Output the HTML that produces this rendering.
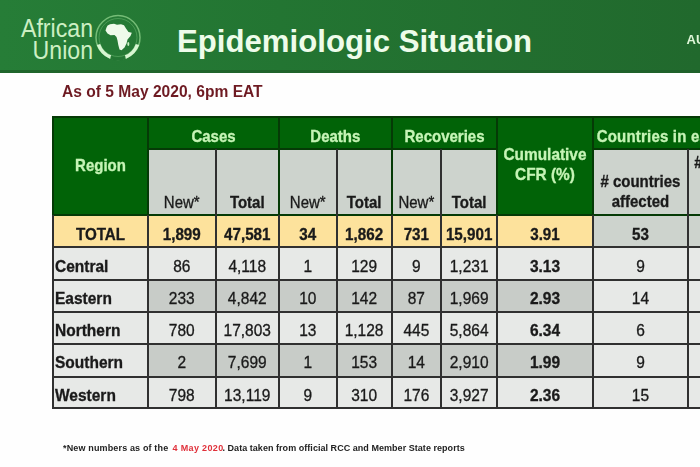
<!DOCTYPE html>
<html><head><meta charset="utf-8">
<style>
html,body{margin:0;padding:0;}
body{width:700px;height:467px;overflow:hidden;position:relative;background:#fefefe;font-family:"Liberation Sans",sans-serif;}
#wrap{position:absolute;left:0;top:0;width:700px;height:467px;filter:blur(0.35px);}
</style></head><body><div id="wrap">
<div style="position:absolute;left:0;top:0;width:700px;height:72.5px;background:linear-gradient(to right,#267d37 0%,#237532 40%,#21692d 100%);"></div>
<div style="position:absolute;left:0;top:69.5px;width:700px;height:3px;background:#1e5f29;opacity:0.8;"></div>
<div style="position:absolute;left:0px;top:16.5px;width:93px;font-size:25px;line-height:22px;color:#cdefc3;text-align:right;transform:scaleX(0.925);transform-origin:right top;">African<br>Union</div>
<svg style="position:absolute;left:94px;top:13px" width="48" height="48" viewBox="0 0 48 48">
<circle cx="24" cy="24.5" r="22" fill="none" stroke="#9fe09a" stroke-width="1.5" opacity="0.65"/>
<circle cx="24" cy="24.5" r="19" fill="none" stroke="#8fd88f" stroke-width="1" opacity="0.35"/>
<path d="M4.5 31.5 A21 21 0 0 0 16.5 44" fill="none" stroke="#d8f6d2" stroke-width="3.6"/>
<path d="M43.5 31.5 A21 21 0 0 1 31.5 44" fill="none" stroke="#d8f6d2" stroke-width="3.6"/>
<path d="M17 45 Q24 47.5 31 45" fill="none" stroke="#247634" stroke-width="2.4"/>
<path d="M12.5 14.5 Q13 12 16 11.3 L20 10.8 L23 11.8 L27 11.2 L30 12.3 L32 15.5 L34.5 19 L37.8 19.8 L36.5 23 L33.5 26.5 L32.5 30.5 L30.5 34.5 L27.5 37.3 L25.5 36.5 L24.3 32 L23.5 27.5 L22.5 24 L20.5 22 L16.5 22.3 L13.5 20.5 L11.5 17.5 Z" fill="#eefaea"/>
<ellipse cx="34.3" cy="31" rx="1" ry="2" fill="#c8efc2"/>
</svg>
<div style="position:absolute;left:177px;top:23px;font-size:32px;font-weight:bold;color:#eefcea;white-space:nowrap;transform:scaleX(0.974);transform-origin:left top;">Epidemiologic Situation</div>
<div style="position:absolute;left:686.5px;top:32px;font-size:13px;font-weight:bold;color:#dff6d8;font-family:"Liberation Serif",serif;white-space:nowrap;">AU</div>
<div style="position:absolute;left:62px;top:82.5px;font-size:16px;font-weight:bold;color:#6e1a22;white-space:nowrap;transform:scaleX(0.974);transform-origin:left top;">As of 5 May 2020, 6pm EAT</div>
<div style="position:absolute;left:53px;top:116.5px;width:707px;height:98.30000000000001px;background:#016307;"></div>
<div style="position:absolute;left:148px;top:148.5px;width:67.5px;height:66.30000000000001px;background:#cdd3cd;"></div>
<div style="position:absolute;left:215.5px;top:148.5px;width:63.5px;height:66.30000000000001px;background:#cdd3cd;"></div>
<div style="position:absolute;left:279px;top:148.5px;width:57.5px;height:66.30000000000001px;background:#cdd3cd;"></div>
<div style="position:absolute;left:336.5px;top:148.5px;width:55.19999999999999px;height:66.30000000000001px;background:#cdd3cd;"></div>
<div style="position:absolute;left:391.7px;top:148.5px;width:49.30000000000001px;height:66.30000000000001px;background:#cdd3cd;"></div>
<div style="position:absolute;left:441px;top:148.5px;width:56.30000000000001px;height:66.30000000000001px;background:#cdd3cd;"></div>
<div style="position:absolute;left:592.7px;top:148.5px;width:167.29999999999995px;height:66.30000000000001px;background:#cdd3cd;"></div>
<div style="position:absolute;left:53px;top:214.8px;width:539.7px;height:32.5px;background:#fde29c;"></div>
<div style="position:absolute;left:592.7px;top:214.8px;width:167.29999999999995px;height:32.5px;background:#cdd3cd;"></div>
<div style="position:absolute;left:53px;top:247.3px;width:707px;height:32.5px;background:#e7e9e7;"></div>
<div style="position:absolute;left:53px;top:279.8px;width:707px;height:31.899999999999977px;background:#e7e9e7;"></div>
<div style="position:absolute;left:148px;top:279.8px;width:444.70000000000005px;height:31.899999999999977px;background:#c8ccc8;"></div>
<div style="position:absolute;left:53px;top:311.7px;width:707px;height:32.10000000000002px;background:#e7e9e7;"></div>
<div style="position:absolute;left:53px;top:343.8px;width:707px;height:32.69999999999999px;background:#e7e9e7;"></div>
<div style="position:absolute;left:148px;top:343.8px;width:444.70000000000005px;height:32.69999999999999px;background:#c8ccc8;"></div>
<div style="position:absolute;left:53px;top:376.5px;width:707px;height:31.5px;background:#e7e9e7;"></div>
<div style="position:absolute;left:52px;top:115.5px;width:708px;height:2.0px;background:#053a06;"></div>
<div style="position:absolute;left:52px;top:246.3px;width:708px;height:2.0px;background:#303030;"></div>
<div style="position:absolute;left:52px;top:278.8px;width:708px;height:2.0px;background:#303030;"></div>
<div style="position:absolute;left:52px;top:310.7px;width:708px;height:2.0px;background:#303030;"></div>
<div style="position:absolute;left:52px;top:342.8px;width:708px;height:2.0px;background:#303030;"></div>
<div style="position:absolute;left:52px;top:375.5px;width:708px;height:2.0px;background:#303030;"></div>
<div style="position:absolute;left:52px;top:407.0px;width:708px;height:2.0px;background:#303030;"></div>
<div style="position:absolute;left:52px;top:213.8px;width:708px;height:2.0px;background:#053a06;"></div>
<div style="position:absolute;left:148px;top:147.5px;width:349.3px;height:2.0px;background:#053a06;"></div>
<div style="position:absolute;left:592.7px;top:147.5px;width:167.29999999999995px;height:2.0px;background:#053a06;"></div>
<div style="position:absolute;left:52.0px;top:116.5px;width:2.0px;height:98.30000000000001px;background:#053a06;"></div>
<div style="position:absolute;left:52.0px;top:214.8px;width:2.0px;height:194.2px;background:#303030;"></div>
<div style="position:absolute;left:147.0px;top:116.5px;width:2.0px;height:98.30000000000001px;background:#053a06;"></div>
<div style="position:absolute;left:147.0px;top:214.8px;width:2.0px;height:194.2px;background:#303030;"></div>
<div style="position:absolute;left:214.5px;top:148.5px;width:2.0px;height:66.30000000000001px;background:#303030;"></div>
<div style="position:absolute;left:214.5px;top:214.8px;width:2.0px;height:194.2px;background:#303030;"></div>
<div style="position:absolute;left:278.0px;top:116.5px;width:2.0px;height:98.30000000000001px;background:#053a06;"></div>
<div style="position:absolute;left:278.0px;top:214.8px;width:2.0px;height:194.2px;background:#303030;"></div>
<div style="position:absolute;left:335.5px;top:148.5px;width:2.0px;height:66.30000000000001px;background:#303030;"></div>
<div style="position:absolute;left:335.5px;top:214.8px;width:2.0px;height:194.2px;background:#303030;"></div>
<div style="position:absolute;left:390.7px;top:116.5px;width:2.0px;height:98.30000000000001px;background:#053a06;"></div>
<div style="position:absolute;left:390.7px;top:214.8px;width:2.0px;height:194.2px;background:#303030;"></div>
<div style="position:absolute;left:440.0px;top:148.5px;width:2.0px;height:66.30000000000001px;background:#303030;"></div>
<div style="position:absolute;left:440.0px;top:214.8px;width:2.0px;height:194.2px;background:#303030;"></div>
<div style="position:absolute;left:496.3px;top:116.5px;width:2.0px;height:98.30000000000001px;background:#053a06;"></div>
<div style="position:absolute;left:496.3px;top:214.8px;width:2.0px;height:194.2px;background:#303030;"></div>
<div style="position:absolute;left:591.7px;top:116.5px;width:2.0px;height:98.30000000000001px;background:#053a06;"></div>
<div style="position:absolute;left:591.7px;top:214.8px;width:2.0px;height:194.2px;background:#303030;"></div>
<div style="position:absolute;left:687.2px;top:148.5px;width:2.0px;height:66.30000000000001px;background:#303030;"></div>
<div style="position:absolute;left:687.2px;top:214.8px;width:2.0px;height:194.2px;background:#303030;"></div>
<div style="position:absolute;left:53px;top:114.5px;width:95px;height:98.30000000000001px;display:flex;align-items:center;justify-content:center;font-size:15px;font-weight:bold;color:#c6f4b6;white-space:nowrap;transform:scaleY(1.12);-webkit-text-stroke:0.3px #c6f4b6;">Region</div>
<div style="position:absolute;left:148px;top:118.5px;width:131px;height:32.0px;display:flex;align-items:center;justify-content:center;font-size:15px;font-weight:bold;color:#c6f4b6;white-space:nowrap;transform:scaleY(1.12);-webkit-text-stroke:0.3px #c6f4b6;">Cases</div>
<div style="position:absolute;left:279px;top:118.5px;width:112.69999999999999px;height:32.0px;display:flex;align-items:center;justify-content:center;font-size:15px;font-weight:bold;color:#c6f4b6;white-space:nowrap;transform:scaleY(1.12);-webkit-text-stroke:0.3px #c6f4b6;">Deaths</div>
<div style="position:absolute;left:391.7px;top:118.5px;width:105.60000000000002px;height:32.0px;display:flex;align-items:center;justify-content:center;font-size:15px;font-weight:bold;color:#c6f4b6;white-space:nowrap;transform:scaleY(1.12);-webkit-text-stroke:0.3px #c6f4b6;">Recoveries</div>
<div style="position:absolute;left:497.3px;top:115.3px;width:95.40000000000003px;height:98.30000000000001px;display:flex;align-items:center;justify-content:center;font-size:15.4px;font-weight:bold;color:#c6f4b6;white-space:nowrap;transform:scaleY(1.12);-webkit-text-stroke:0.3px #c6f4b6;text-align:center;line-height:18px;">Cumulative<br>CFR (%)</div>
<div style="position:absolute;left:592.7px;top:118.5px;width:167.29999999999995px;height:32.0px;display:flex;align-items:center;justify-content:flex-start;font-size:15px;font-weight:bold;color:#c6f4b6;white-space:nowrap;transform:scaleY(1.12);-webkit-text-stroke:0.3px #c6f4b6;padding-left:4px;box-sizing:border-box;letter-spacing:0.2px;">Countries in each</div>
<div style="position:absolute;left:148px;top:188.3px;width:67.5px;height:28.0px;display:flex;align-items:center;justify-content:center;font-size:15px;font-weight:normal;color:#1a1a1a;white-space:nowrap;transform:scaleY(1.06);-webkit-text-stroke:0.3px #1a1a1a;">New*</div>
<div style="position:absolute;left:215.5px;top:188.3px;width:63.5px;height:28.0px;display:flex;align-items:center;justify-content:center;font-size:15px;font-weight:bold;color:#1a1a1a;white-space:nowrap;transform:scaleY(1.06);-webkit-text-stroke:0.3px #1a1a1a;">Total</div>
<div style="position:absolute;left:279px;top:188.3px;width:57.5px;height:28.0px;display:flex;align-items:center;justify-content:center;font-size:15px;font-weight:normal;color:#1a1a1a;white-space:nowrap;transform:scaleY(1.06);-webkit-text-stroke:0.3px #1a1a1a;">New*</div>
<div style="position:absolute;left:336.5px;top:188.3px;width:55.19999999999999px;height:28.0px;display:flex;align-items:center;justify-content:center;font-size:15px;font-weight:bold;color:#1a1a1a;white-space:nowrap;transform:scaleY(1.06);-webkit-text-stroke:0.3px #1a1a1a;">Total</div>
<div style="position:absolute;left:391.7px;top:188.3px;width:49.30000000000001px;height:28.0px;display:flex;align-items:center;justify-content:center;font-size:15px;font-weight:normal;color:#1a1a1a;white-space:nowrap;transform:scaleY(1.06);-webkit-text-stroke:0.3px #1a1a1a;">New*</div>
<div style="position:absolute;left:441px;top:188.3px;width:56.30000000000001px;height:28.0px;display:flex;align-items:center;justify-content:center;font-size:15px;font-weight:bold;color:#1a1a1a;white-space:nowrap;transform:scaleY(1.06);-webkit-text-stroke:0.3px #1a1a1a;">Total</div>
<div style="position:absolute;left:592.7px;top:162.5px;width:95.5px;height:56.30000000000001px;display:flex;align-items:center;justify-content:center;font-size:15px;font-weight:bold;color:#1a1a1a;white-space:nowrap;transform:scaleY(1.12);-webkit-text-stroke:0.3px #1a1a1a;text-align:center;line-height:17.8px;"># countries<br>affected</div>
<div style="position:absolute;left:688.2px;top:146.5px;width:71.79999999999995px;height:28.0px;display:flex;align-items:center;justify-content:flex-start;font-size:15px;font-weight:bold;color:#1a1a1a;white-space:nowrap;transform:scaleY(1.12);-webkit-text-stroke:0.3px #1a1a1a;padding-left:6px;box-sizing:border-box;">#</div>
<div style="position:absolute;left:53px;top:217.3px;width:95px;height:32.5px;display:flex;align-items:center;justify-content:center;font-size:15.2px;font-weight:bold;color:#1a1a1a;white-space:nowrap;transform:scaleY(1.12);-webkit-text-stroke:0.3px #1a1a1a;">TOTAL</div>
<div style="position:absolute;left:148px;top:217.3px;width:67.5px;height:32.5px;display:flex;align-items:center;justify-content:center;font-size:15.2px;font-weight:bold;color:#1a1a1a;white-space:nowrap;transform:scaleY(1.12);-webkit-text-stroke:0.3px #1a1a1a;">1,899</div>
<div style="position:absolute;left:215.5px;top:217.3px;width:63.5px;height:32.5px;display:flex;align-items:center;justify-content:center;font-size:15.2px;font-weight:bold;color:#1a1a1a;white-space:nowrap;transform:scaleY(1.12);-webkit-text-stroke:0.3px #1a1a1a;">47,581</div>
<div style="position:absolute;left:279px;top:217.3px;width:57.5px;height:32.5px;display:flex;align-items:center;justify-content:center;font-size:15.2px;font-weight:bold;color:#1a1a1a;white-space:nowrap;transform:scaleY(1.12);-webkit-text-stroke:0.3px #1a1a1a;">34</div>
<div style="position:absolute;left:336.5px;top:217.3px;width:55.19999999999999px;height:32.5px;display:flex;align-items:center;justify-content:center;font-size:15.2px;font-weight:bold;color:#1a1a1a;white-space:nowrap;transform:scaleY(1.12);-webkit-text-stroke:0.3px #1a1a1a;">1,862</div>
<div style="position:absolute;left:391.7px;top:217.3px;width:49.30000000000001px;height:32.5px;display:flex;align-items:center;justify-content:center;font-size:15.2px;font-weight:bold;color:#1a1a1a;white-space:nowrap;transform:scaleY(1.12);-webkit-text-stroke:0.3px #1a1a1a;">731</div>
<div style="position:absolute;left:441px;top:217.3px;width:56.30000000000001px;height:32.5px;display:flex;align-items:center;justify-content:center;font-size:15.2px;font-weight:bold;color:#1a1a1a;white-space:nowrap;transform:scaleY(1.12);-webkit-text-stroke:0.3px #1a1a1a;">15,901</div>
<div style="position:absolute;left:497.3px;top:217.3px;width:95.40000000000003px;height:32.5px;display:flex;align-items:center;justify-content:center;font-size:15.2px;font-weight:bold;color:#1a1a1a;white-space:nowrap;transform:scaleY(1.12);-webkit-text-stroke:0.3px #1a1a1a;">3.91</div>
<div style="position:absolute;left:592.7px;top:217.3px;width:95.5px;height:32.5px;display:flex;align-items:center;justify-content:center;font-size:15.2px;font-weight:bold;color:#1a1a1a;white-space:nowrap;transform:scaleY(1.12);-webkit-text-stroke:0.3px #1a1a1a;">53</div>
<div style="position:absolute;left:55px;top:249.8px;width:93px;height:32.5px;display:flex;align-items:center;justify-content:flex-start;font-size:15.5px;font-weight:bold;color:#1a1a1a;white-space:nowrap;transform:scaleY(1.12);-webkit-text-stroke:0.3px #1a1a1a;">Central</div>
<div style="position:absolute;left:148px;top:249.8px;width:67.5px;height:32.5px;display:flex;align-items:center;justify-content:center;font-size:15.5px;font-weight:normal;color:#1a1a1a;white-space:nowrap;transform:scaleY(1.12);-webkit-text-stroke:0.3px #1a1a1a;">86</div>
<div style="position:absolute;left:215.5px;top:249.8px;width:63.5px;height:32.5px;display:flex;align-items:center;justify-content:center;font-size:15.5px;font-weight:normal;color:#1a1a1a;white-space:nowrap;transform:scaleY(1.12);-webkit-text-stroke:0.3px #1a1a1a;">4,118</div>
<div style="position:absolute;left:279px;top:249.8px;width:57.5px;height:32.5px;display:flex;align-items:center;justify-content:center;font-size:15.5px;font-weight:normal;color:#1a1a1a;white-space:nowrap;transform:scaleY(1.12);-webkit-text-stroke:0.3px #1a1a1a;">1</div>
<div style="position:absolute;left:336.5px;top:249.8px;width:55.19999999999999px;height:32.5px;display:flex;align-items:center;justify-content:center;font-size:15.5px;font-weight:normal;color:#1a1a1a;white-space:nowrap;transform:scaleY(1.12);-webkit-text-stroke:0.3px #1a1a1a;">129</div>
<div style="position:absolute;left:391.7px;top:249.8px;width:49.30000000000001px;height:32.5px;display:flex;align-items:center;justify-content:center;font-size:15.5px;font-weight:normal;color:#1a1a1a;white-space:nowrap;transform:scaleY(1.12);-webkit-text-stroke:0.3px #1a1a1a;">9</div>
<div style="position:absolute;left:441px;top:249.8px;width:56.30000000000001px;height:32.5px;display:flex;align-items:center;justify-content:center;font-size:15.5px;font-weight:normal;color:#1a1a1a;white-space:nowrap;transform:scaleY(1.12);-webkit-text-stroke:0.3px #1a1a1a;">1,231</div>
<div style="position:absolute;left:497.3px;top:249.8px;width:95.40000000000003px;height:32.5px;display:flex;align-items:center;justify-content:center;font-size:15.5px;font-weight:bold;color:#1a1a1a;white-space:nowrap;transform:scaleY(1.12);-webkit-text-stroke:0.3px #1a1a1a;">3.13</div>
<div style="position:absolute;left:592.7px;top:249.8px;width:95.5px;height:32.5px;display:flex;align-items:center;justify-content:center;font-size:15.5px;font-weight:normal;color:#1a1a1a;white-space:nowrap;transform:scaleY(1.12);-webkit-text-stroke:0.3px #1a1a1a;">9</div>
<div style="position:absolute;left:55px;top:282.3px;width:93px;height:31.899999999999977px;display:flex;align-items:center;justify-content:flex-start;font-size:15.5px;font-weight:bold;color:#1a1a1a;white-space:nowrap;transform:scaleY(1.12);-webkit-text-stroke:0.3px #1a1a1a;">Eastern</div>
<div style="position:absolute;left:148px;top:282.3px;width:67.5px;height:31.899999999999977px;display:flex;align-items:center;justify-content:center;font-size:15.5px;font-weight:normal;color:#1a1a1a;white-space:nowrap;transform:scaleY(1.12);-webkit-text-stroke:0.3px #1a1a1a;">233</div>
<div style="position:absolute;left:215.5px;top:282.3px;width:63.5px;height:31.899999999999977px;display:flex;align-items:center;justify-content:center;font-size:15.5px;font-weight:normal;color:#1a1a1a;white-space:nowrap;transform:scaleY(1.12);-webkit-text-stroke:0.3px #1a1a1a;">4,842</div>
<div style="position:absolute;left:279px;top:282.3px;width:57.5px;height:31.899999999999977px;display:flex;align-items:center;justify-content:center;font-size:15.5px;font-weight:normal;color:#1a1a1a;white-space:nowrap;transform:scaleY(1.12);-webkit-text-stroke:0.3px #1a1a1a;">10</div>
<div style="position:absolute;left:336.5px;top:282.3px;width:55.19999999999999px;height:31.899999999999977px;display:flex;align-items:center;justify-content:center;font-size:15.5px;font-weight:normal;color:#1a1a1a;white-space:nowrap;transform:scaleY(1.12);-webkit-text-stroke:0.3px #1a1a1a;">142</div>
<div style="position:absolute;left:391.7px;top:282.3px;width:49.30000000000001px;height:31.899999999999977px;display:flex;align-items:center;justify-content:center;font-size:15.5px;font-weight:normal;color:#1a1a1a;white-space:nowrap;transform:scaleY(1.12);-webkit-text-stroke:0.3px #1a1a1a;">87</div>
<div style="position:absolute;left:441px;top:282.3px;width:56.30000000000001px;height:31.899999999999977px;display:flex;align-items:center;justify-content:center;font-size:15.5px;font-weight:normal;color:#1a1a1a;white-space:nowrap;transform:scaleY(1.12);-webkit-text-stroke:0.3px #1a1a1a;">1,969</div>
<div style="position:absolute;left:497.3px;top:282.3px;width:95.40000000000003px;height:31.899999999999977px;display:flex;align-items:center;justify-content:center;font-size:15.5px;font-weight:bold;color:#1a1a1a;white-space:nowrap;transform:scaleY(1.12);-webkit-text-stroke:0.3px #1a1a1a;">2.93</div>
<div style="position:absolute;left:592.7px;top:282.3px;width:95.5px;height:31.899999999999977px;display:flex;align-items:center;justify-content:center;font-size:15.5px;font-weight:normal;color:#1a1a1a;white-space:nowrap;transform:scaleY(1.12);-webkit-text-stroke:0.3px #1a1a1a;">14</div>
<div style="position:absolute;left:55px;top:314.2px;width:93px;height:32.10000000000002px;display:flex;align-items:center;justify-content:flex-start;font-size:15.5px;font-weight:bold;color:#1a1a1a;white-space:nowrap;transform:scaleY(1.12);-webkit-text-stroke:0.3px #1a1a1a;">Northern</div>
<div style="position:absolute;left:148px;top:314.2px;width:67.5px;height:32.10000000000002px;display:flex;align-items:center;justify-content:center;font-size:15.5px;font-weight:normal;color:#1a1a1a;white-space:nowrap;transform:scaleY(1.12);-webkit-text-stroke:0.3px #1a1a1a;">780</div>
<div style="position:absolute;left:215.5px;top:314.2px;width:63.5px;height:32.10000000000002px;display:flex;align-items:center;justify-content:center;font-size:15.5px;font-weight:normal;color:#1a1a1a;white-space:nowrap;transform:scaleY(1.12);-webkit-text-stroke:0.3px #1a1a1a;">17,803</div>
<div style="position:absolute;left:279px;top:314.2px;width:57.5px;height:32.10000000000002px;display:flex;align-items:center;justify-content:center;font-size:15.5px;font-weight:normal;color:#1a1a1a;white-space:nowrap;transform:scaleY(1.12);-webkit-text-stroke:0.3px #1a1a1a;">13</div>
<div style="position:absolute;left:336.5px;top:314.2px;width:55.19999999999999px;height:32.10000000000002px;display:flex;align-items:center;justify-content:center;font-size:15.5px;font-weight:normal;color:#1a1a1a;white-space:nowrap;transform:scaleY(1.12);-webkit-text-stroke:0.3px #1a1a1a;">1,128</div>
<div style="position:absolute;left:391.7px;top:314.2px;width:49.30000000000001px;height:32.10000000000002px;display:flex;align-items:center;justify-content:center;font-size:15.5px;font-weight:normal;color:#1a1a1a;white-space:nowrap;transform:scaleY(1.12);-webkit-text-stroke:0.3px #1a1a1a;">445</div>
<div style="position:absolute;left:441px;top:314.2px;width:56.30000000000001px;height:32.10000000000002px;display:flex;align-items:center;justify-content:center;font-size:15.5px;font-weight:normal;color:#1a1a1a;white-space:nowrap;transform:scaleY(1.12);-webkit-text-stroke:0.3px #1a1a1a;">5,864</div>
<div style="position:absolute;left:497.3px;top:314.2px;width:95.40000000000003px;height:32.10000000000002px;display:flex;align-items:center;justify-content:center;font-size:15.5px;font-weight:bold;color:#1a1a1a;white-space:nowrap;transform:scaleY(1.12);-webkit-text-stroke:0.3px #1a1a1a;">6.34</div>
<div style="position:absolute;left:592.7px;top:314.2px;width:95.5px;height:32.10000000000002px;display:flex;align-items:center;justify-content:center;font-size:15.5px;font-weight:normal;color:#1a1a1a;white-space:nowrap;transform:scaleY(1.12);-webkit-text-stroke:0.3px #1a1a1a;">6</div>
<div style="position:absolute;left:55px;top:346.3px;width:93px;height:32.69999999999999px;display:flex;align-items:center;justify-content:flex-start;font-size:15.5px;font-weight:bold;color:#1a1a1a;white-space:nowrap;transform:scaleY(1.12);-webkit-text-stroke:0.3px #1a1a1a;">Southern</div>
<div style="position:absolute;left:148px;top:346.3px;width:67.5px;height:32.69999999999999px;display:flex;align-items:center;justify-content:center;font-size:15.5px;font-weight:normal;color:#1a1a1a;white-space:nowrap;transform:scaleY(1.12);-webkit-text-stroke:0.3px #1a1a1a;">2</div>
<div style="position:absolute;left:215.5px;top:346.3px;width:63.5px;height:32.69999999999999px;display:flex;align-items:center;justify-content:center;font-size:15.5px;font-weight:normal;color:#1a1a1a;white-space:nowrap;transform:scaleY(1.12);-webkit-text-stroke:0.3px #1a1a1a;">7,699</div>
<div style="position:absolute;left:279px;top:346.3px;width:57.5px;height:32.69999999999999px;display:flex;align-items:center;justify-content:center;font-size:15.5px;font-weight:normal;color:#1a1a1a;white-space:nowrap;transform:scaleY(1.12);-webkit-text-stroke:0.3px #1a1a1a;">1</div>
<div style="position:absolute;left:336.5px;top:346.3px;width:55.19999999999999px;height:32.69999999999999px;display:flex;align-items:center;justify-content:center;font-size:15.5px;font-weight:normal;color:#1a1a1a;white-space:nowrap;transform:scaleY(1.12);-webkit-text-stroke:0.3px #1a1a1a;">153</div>
<div style="position:absolute;left:391.7px;top:346.3px;width:49.30000000000001px;height:32.69999999999999px;display:flex;align-items:center;justify-content:center;font-size:15.5px;font-weight:normal;color:#1a1a1a;white-space:nowrap;transform:scaleY(1.12);-webkit-text-stroke:0.3px #1a1a1a;">14</div>
<div style="position:absolute;left:441px;top:346.3px;width:56.30000000000001px;height:32.69999999999999px;display:flex;align-items:center;justify-content:center;font-size:15.5px;font-weight:normal;color:#1a1a1a;white-space:nowrap;transform:scaleY(1.12);-webkit-text-stroke:0.3px #1a1a1a;">2,910</div>
<div style="position:absolute;left:497.3px;top:346.3px;width:95.40000000000003px;height:32.69999999999999px;display:flex;align-items:center;justify-content:center;font-size:15.5px;font-weight:bold;color:#1a1a1a;white-space:nowrap;transform:scaleY(1.12);-webkit-text-stroke:0.3px #1a1a1a;">1.99</div>
<div style="position:absolute;left:592.7px;top:346.3px;width:95.5px;height:32.69999999999999px;display:flex;align-items:center;justify-content:center;font-size:15.5px;font-weight:normal;color:#1a1a1a;white-space:nowrap;transform:scaleY(1.12);-webkit-text-stroke:0.3px #1a1a1a;">9</div>
<div style="position:absolute;left:55px;top:379.0px;width:93px;height:31.5px;display:flex;align-items:center;justify-content:flex-start;font-size:15.5px;font-weight:bold;color:#1a1a1a;white-space:nowrap;transform:scaleY(1.12);-webkit-text-stroke:0.3px #1a1a1a;">Western</div>
<div style="position:absolute;left:148px;top:379.0px;width:67.5px;height:31.5px;display:flex;align-items:center;justify-content:center;font-size:15.5px;font-weight:normal;color:#1a1a1a;white-space:nowrap;transform:scaleY(1.12);-webkit-text-stroke:0.3px #1a1a1a;">798</div>
<div style="position:absolute;left:215.5px;top:379.0px;width:63.5px;height:31.5px;display:flex;align-items:center;justify-content:center;font-size:15.5px;font-weight:normal;color:#1a1a1a;white-space:nowrap;transform:scaleY(1.12);-webkit-text-stroke:0.3px #1a1a1a;">13,119</div>
<div style="position:absolute;left:279px;top:379.0px;width:57.5px;height:31.5px;display:flex;align-items:center;justify-content:center;font-size:15.5px;font-weight:normal;color:#1a1a1a;white-space:nowrap;transform:scaleY(1.12);-webkit-text-stroke:0.3px #1a1a1a;">9</div>
<div style="position:absolute;left:336.5px;top:379.0px;width:55.19999999999999px;height:31.5px;display:flex;align-items:center;justify-content:center;font-size:15.5px;font-weight:normal;color:#1a1a1a;white-space:nowrap;transform:scaleY(1.12);-webkit-text-stroke:0.3px #1a1a1a;">310</div>
<div style="position:absolute;left:391.7px;top:379.0px;width:49.30000000000001px;height:31.5px;display:flex;align-items:center;justify-content:center;font-size:15.5px;font-weight:normal;color:#1a1a1a;white-space:nowrap;transform:scaleY(1.12);-webkit-text-stroke:0.3px #1a1a1a;">176</div>
<div style="position:absolute;left:441px;top:379.0px;width:56.30000000000001px;height:31.5px;display:flex;align-items:center;justify-content:center;font-size:15.5px;font-weight:normal;color:#1a1a1a;white-space:nowrap;transform:scaleY(1.12);-webkit-text-stroke:0.3px #1a1a1a;">3,927</div>
<div style="position:absolute;left:497.3px;top:379.0px;width:95.40000000000003px;height:31.5px;display:flex;align-items:center;justify-content:center;font-size:15.5px;font-weight:bold;color:#1a1a1a;white-space:nowrap;transform:scaleY(1.12);-webkit-text-stroke:0.3px #1a1a1a;">2.36</div>
<div style="position:absolute;left:592.7px;top:379.0px;width:95.5px;height:31.5px;display:flex;align-items:center;justify-content:center;font-size:15.5px;font-weight:normal;color:#1a1a1a;white-space:nowrap;transform:scaleY(1.12);-webkit-text-stroke:0.3px #1a1a1a;">15</div>
<div style="position:absolute;left:63px;top:442.5px;font-size:9px;font-weight:bold;color:#222;white-space:nowrap;letter-spacing:0.15px;">*New numbers as of the</div>
<div style="position:absolute;left:172.5px;top:442.5px;font-size:9px;font-weight:bold;color:#e0303a;white-space:nowrap;letter-spacing:0.35px;">4 May 2020</div>
<div style="position:absolute;left:222.5px;top:442.5px;font-size:9px;font-weight:bold;color:#222;white-space:nowrap;letter-spacing:0.04px;">. Data taken from official RCC and Member State reports</div>
</div></body></html>
